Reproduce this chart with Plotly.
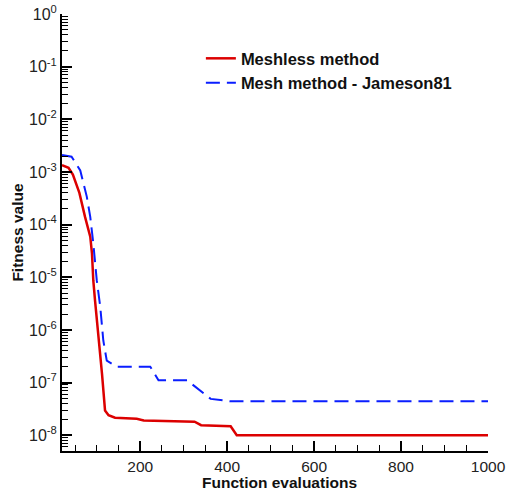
import plotly.graph_objects as go

# Meshless method (red, solid)
meshless_x = [20, 35, 45, 60, 73, 85, 89, 92, 96, 104, 112, 119, 127, 142, 192, 208, 325, 340, 408, 422, 1000]
meshless_y = [1.35e-3, 1.2e-3, 8.9e-4, 4.0e-4, 1.4e-4, 5.9e-5, 2.8e-5, 8.7e-6, 3.6e-6, 8.5e-7,
              1.48e-7, 2.95e-8, 2.4e-8, 2.15e-8, 2.05e-8, 1.9e-8, 1.8e-8, 1.55e-8, 1.48e-8, 1.0e-8, 1.0e-8]

# Mesh method - Jameson81 (blue, dashed)
mesh_x = [20, 42, 62, 77, 85, 92, 100, 108, 115, 123, 146, 223, 242, 308, 362, 408, 1000]
mesh_y = [2.1e-3, 1.95e-3, 1.07e-3, 3.4e-4, 1.4e-4, 4.4e-5, 8.7e-6, 2.75e-6, 6.3e-7, 2.6e-7,
          2.0e-7, 2.0e-7, 1.1e-7, 1.1e-7, 4.9e-8, 4.4e-8, 4.4e-8]

y_major = [1e0, 1e-1, 1e-2, 1e-3, 1e-4, 1e-5, 1e-6, 1e-7, 1e-8]
y_labels = ["10<sup>0</sup>", "10<sup>-1</sup>", "10<sup>-2</sup>", "10<sup>-3</sup>", "10<sup>-4</sup>",
            "10<sup>-5</sup>", "10<sup>-6</sup>", "10<sup>-7</sup>", "10<sup>-8</sup>"]
x_major = [200, 400, 600, 800, 1000]
x_minor = [50, 100, 150, 250, 300, 350, 450, 500, 550, 650, 700, 750, 850, 900, 950]

y_minor = []
for e in range(-9, 0):
    for m in range(2, 10):
        v = m * 10.0 ** e
        if v > 5e-9:
            y_minor.append(v)

fig = go.Figure()
fig.add_trace(go.Scatter(x=meshless_x, y=meshless_y, mode="lines", name="<b>Meshless method</b>",
                         line=dict(color="#dc0000", width=2.5)))
fig.add_trace(go.Scatter(x=mesh_x, y=mesh_y, mode="lines", name="<b>Mesh method - Jameson81</b>",
                         line=dict(color="#0a1eff", width=2, dash="14px,7px")))

font_family = "Liberation Sans, Arial, sans-serif"
fig.update_layout(
    width=512, height=493,
    margin=dict(l=62, r=24, t=14, b=42, autoexpand=False),
    paper_bgcolor="white", plot_bgcolor="white",
    font=dict(family=font_family, size=16, color="#222"),
    showlegend=True,
    legend=dict(x=0.326, y=0.938, xanchor="left", yanchor="top", bgcolor="rgba(0,0,0,0)",
                font=dict(size=16.5, color="#111", family=font_family), tracegroupgap=0),
    xaxis=dict(range=[20, 1000], automargin=False, showline=True, linecolor="black", linewidth=2,
               mirror=False, showgrid=False, zeroline=False, ticks="inside", ticklen=10, tickwidth=2,
               tickcolor="black", tickmode="array", tickvals=x_major, ticktext=[str(v) for v in x_major],
               tickfont=dict(size=15.5, color="#222"),
               minor=dict(ticks="inside", ticklen=6, tickwidth=1, tickcolor="black",
                          tickmode="array", tickvals=x_minor, showgrid=False)),
    yaxis=dict(type="log", range=[-8.3, 0], automargin=False, showline=True, linecolor="black",
               linewidth=2, mirror=False, showgrid=False, zeroline=False, ticks="inside", ticklen=10,
               tickwidth=2, tickcolor="black", tickmode="array", tickvals=y_major, ticktext=y_labels,
               tickfont=dict(size=16, color="#222"),
               minor=dict(ticks="inside", ticklen=6, tickwidth=1, tickcolor="black",
                          tickmode="array", tickvals=y_minor, showgrid=False),
               title=dict(text="<b>Fitness value</b>", font=dict(size=15.5, color="#111"), standoff=2)),
    annotations=[dict(text="<b>Function evaluations</b>", xref="paper", yref="paper",
                      x=0.51, y=-0.096, xanchor="center", yanchor="bottom", showarrow=False,
                      font=dict(size=15.5, color="#111", family=font_family))],
)

fig.write_html("out.html", config={"displayModeBar": False},
               post_script="document.body.style.margin='0';document.documentElement.style.overflow='hidden';")
